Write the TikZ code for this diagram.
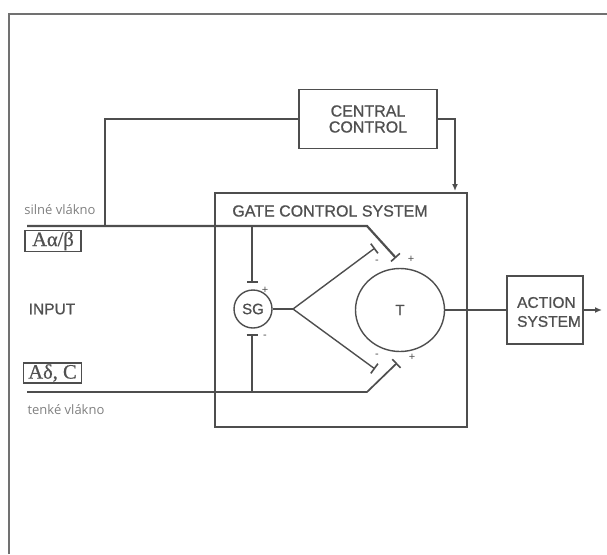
\documentclass[tikz,border=0pt]{standalone}
\usepackage{fontspec}
\setmainfont{Liberation Sans}
\newfontfamily\capsfont[FakeBold=0.9]{Liberation Sans}
\newfontfamily\lblfont{Open Sans}
\newfontfamily\serfont[FakeBold=0.6]{Liberation Serif}
\usetikzlibrary{arrows.meta,shapes.geometric}
\definecolor{ln}{HTML}{4E4E4E}
\definecolor{tx}{HTML}{505050}
\definecolor{lbl}{HTML}{808080}
\tikzset{
  box/.style={draw=ln, line width=1.4pt, rectangle, inner sep=0pt},
  caps/.style={text=tx, font=\capsfont\fontsize{15.5}{16}\selectfont, align=center},
  pm/.style={text=tx, font=\fontsize{11}{11}\selectfont, inner sep=0pt},
  conn/.style={draw=ln, line width=1.4pt},
  thickfiber/.style={draw=ln, line width=2.2pt},
  thinfiber/.style={draw=ln, line width=1.7pt},
  inh/.style={-{Bar[width=12pt,line width=1.6pt]}},
  fibre/.style={text=lbl, font=\lblfont\fontsize{13}{14}\selectfont, inner sep=0pt},
  greekbox/.style={draw=ln, line width=1.3pt, inner sep=0pt, text=tx,
    font=\serfont\fontsize{20.5}{20}\selectfont},
}
\begin{document}
\begin{tikzpicture}[x=1pt,y=-1pt]
\useasboundingbox (0,0) rectangle (607,554);
% outer frame
\coordinate (fbl) at (9,554);
\coordinate (ftl) at (9,14);
\coordinate (ftr) at (607,14);
\draw[conn, draw=ln!80] (fbl) -- (ftl) -- (ftr);

% central control
\node[box, minimum width=138pt, minimum height=59pt] (cc) at (368,119) {};
\node[caps, font=\capsfont\fontsize{16}{16}\selectfont] (cct) at (368,119) {CENTRAL\\CONTROL};

% gate control system
\node[box, minimum width=252pt, minimum height=234pt] (gcs) at (341,310) {};
\node[caps, font=\capsfont\fontsize{16}{16}\selectfont] (gcst) at (330,211) {GATE CONTROL SYSTEM};

% central control connections
\coordinate (j1) at (105,226);
\coordinate (gin) at (455,191);
\draw[conn] (cc.west) -| (j1);
\draw[conn, -{Latex[length=7pt,width=6pt]}] (cc.east) -| (gin);

% fibres
\coordinate (fa0) at (27,226);
\coordinate (fa1) at (367,226);
\coordinate (fa2) at (396,258);
\draw[thickfiber, inh] (fa0) -- (fa1) -- (fa2);
\coordinate (fb0) at (27,392);
\coordinate (fb1) at (367,392);
\coordinate (fb2) at (397,363);
\draw[thinfiber, inh] (fb0) -- (fb1) -- (fb2);

% SG
\node[circle, draw=ln, line width=1.4pt, minimum size=38pt, inner sep=0pt, text=tx,
  font=\capsfont\fontsize{15}{15}\selectfont] (sg) at (253,309) {SG};
\coordinate (v1) at (252,226);
\coordinate (sgt) at (252,283);
\coordinate (v2) at (252,392);
\coordinate (sgb) at (252,334);
\draw[conn, -{Bar[width=11pt,line width=1.6pt]}] (v1) -- (sgt);
\draw[conn, -{Bar[width=11pt,line width=1.6pt]}] (v2) -- (sgb);
\node[pm] (p1) at (265,290) {+};
\node[pm] (m1) at (265,337) {-};

\coordinate (br) at (293,309);
\coordinate (u1) at (375,248);
\coordinate (l1) at (375,369);
\draw[conn] (sg.east) -- (br);
\draw[conn, inh] (br) -- (u1);
\draw[conn, inh] (br) -- (l1);

% T
\node[ellipse, draw=ln, line width=1.4pt, minimum width=89pt, minimum height=83pt,
  inner sep=0pt, text=tx, font=\capsfont\fontsize{15}{15}\selectfont] (t) at (400,310) {T};
\node[pm] (m2) at (377,262) {-};
\node[pm] (p2) at (411,259) {+};
\node[pm] (m3) at (377,356) {-};
\node[pm] (p3) at (412,357) {+};

% action system
\node[box, minimum width=76pt, minimum height=68pt] (act) at (545,310) {};
\node[caps, align=left, font=\capsfont\fontsize{15.5}{19}\selectfont] (actt) at (549,312) {ACTION\\SYSTEM};
\coordinate (out) at (602,310);
\draw[conn] (t.east) -- (act.west);
\draw[conn, -{Latex[length=7pt,width=6pt]}] (act.east) -- (out);

% inputs
\node[fibre] (sv) at (60,210) {silné vlákno};
\node[fibre] (tv) at (66,410) {tenké vlákno};
\node[greekbox, minimum width=56pt, minimum height=21pt] (aab) at (53,241) {Aα/β};
\node[greekbox, minimum width=58pt, minimum height=20pt] (adc) at (52.5,373) {Aδ, C};
\node[caps, font=\capsfont\fontsize{15.5}{16}\selectfont] (inp) at (52,309) {INPUT};
\end{tikzpicture}
\end{document}
